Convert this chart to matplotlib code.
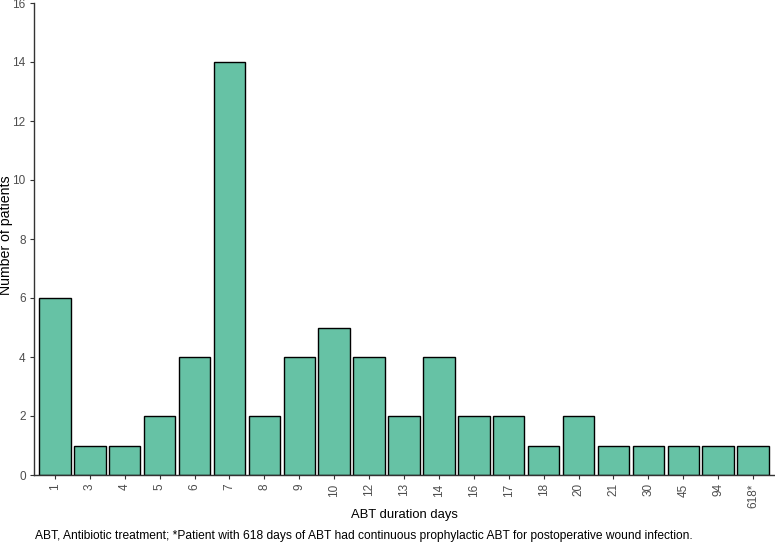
import matplotlib
matplotlib.use("Agg")
import matplotlib.pyplot as plt
import numpy as np

plt.rcParams['font.family'] = ['Liberation Sans', 'DejaVu Sans']

categories = ["1", "3", "4", "5", "6", "7", "8", "9", "10", "12", "13", "14",
              "16", "17", "18", "20", "21", "30", "45", "94", "618*"]
counts = [6, 1, 1, 2, 4, 14, 2, 4, 5, 4, 2, 4, 2, 2, 1, 2, 1, 1, 1, 1, 1]
y_ticks = [0, 2, 4, 6, 8, 10, 12, 14, 16]

W, H = 775, 543
fig = plt.figure(figsize=(W / 100, H / 100), dpi=100)
left, right, top, bottom = 34, 774, 3, 475
ax = fig.add_axes([left / W, 1 - bottom / H, (right - left) / W, (bottom - top) / H])

x = np.arange(len(categories))
ax.bar(x, counts, width=0.9, color="#66C2A5", edgecolor="black", linewidth=1.0)

ax.set_xlim(-0.6, len(categories) - 1 + 0.6)
ax.set_ylim(0, 16)
ax.set_yticks(y_ticks)
ax.set_xticks(x)
ax.set_xticklabels(categories, rotation=90)

for s in ["top", "right"]:
    ax.spines[s].set_visible(False)
for s in ["left", "bottom"]:
    ax.spines[s].set_color("#333333")
    ax.spines[s].set_linewidth(1.0)

ax.tick_params(axis="both", colors="#333333", labelcolor="#4D4D4D", labelsize=8.5,
               length=3, width=0.8, pad=3)

fig.text(6 / W, 1 - 235 / H, "Number of patients", fontsize=10.2, rotation=90,
         ha="center", va="center")
fig.text(404 / W, 1 - 515 / H, "ABT duration days", fontsize=9.4, ha="center", va="center")
fig.text(35 / W, 1 - 536 / H,
         "ABT, Antibiotic treatment; *Patient with 618 days of ABT had continuous prophylactic ABT for postoperative wound infection.",
         fontsize=8.63, ha="left", va="center")

fig.savefig("out.png", dpi=100)
